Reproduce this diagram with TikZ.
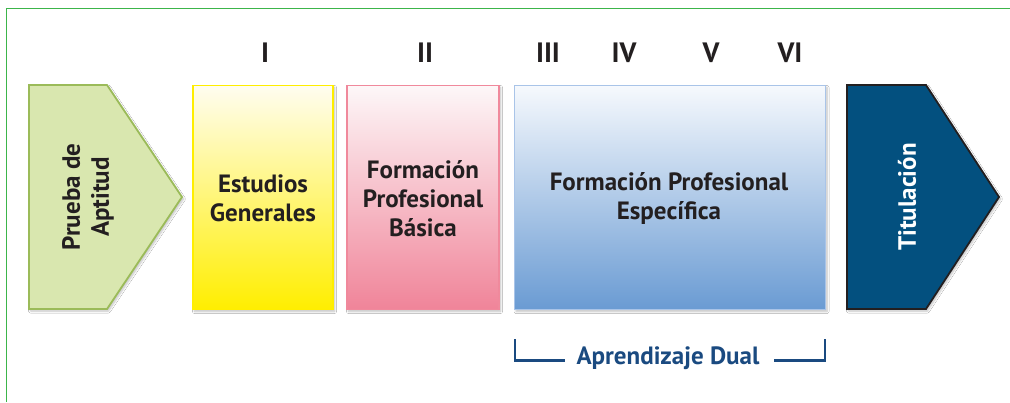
\documentclass[tikz,border=0pt]{standalone}
\usepackage{fontspec}
\setmainfont{PT Sans}
\usetikzlibrary{shadows.blur}
\definecolor{frameg}{HTML}{3CB54A}
\definecolor{gfill}{HTML}{D9E7AF}
\definecolor{gline}{HTML}{9BBB59}
\definecolor{yfill}{HTML}{FFEE00}
\definecolor{ytop}{HTML}{FFFDF0}
\definecolor{pfill}{HTML}{F08499}
\definecolor{ptop}{HTML}{FDF7F8}
\definecolor{pline}{HTML}{F0899C}
\definecolor{bfill}{HTML}{6A9BD3}
\definecolor{btop}{HTML}{F6F9FD}
\definecolor{bline}{HTML}{A9C4E8}
\definecolor{dfill}{HTML}{03507F}
\definecolor{dline}{HTML}{231F20}
\definecolor{txt}{HTML}{231F20}
\definecolor{dual}{HTML}{1A4A80}
\begin{document}
\begin{tikzpicture}[x=1pt,y=-1pt,
  shad/.style={blur shadow={shadow xshift=1.5pt,shadow yshift=-2pt,shadow blur steps=6,shadow opacity=25}},
  stagebox/.style={shad,line width=1.8pt,inner sep=0pt},
  lbl/.style={font=\bfseries\fontsize{25}{29}\selectfont,text=txt,align=center},
  rom/.style={font=\bfseries\fontsize{28}{30}\selectfont,text=txt,anchor=base}]
\useasboundingbox (0,0) rectangle (1010,402);
\fill[white] (0,0) rectangle (1010,402);
\draw[frameg,line width=1.5pt] (6.5,402) -- (6.5,8.5) -- (1010,8.5);
% pentagons
\path[shad,fill=gfill,draw=gline,line width=1.8pt,line join=miter]
  (29,85) -- (107,85) -- (182,197) -- (107,309) -- (29,309) -- cycle;
\path[shad,fill=dfill,draw=dline,line width=1.8pt,line join=miter]
  (847,85) -- (926,85) -- (999,197) -- (926,309) -- (847,309) -- cycle;
% boxes
\node[stagebox,draw=yfill,top color=ytop,bottom color=yfill,minimum width=140pt,minimum height=224pt] (eg) at (263,197.5) {};
\node[stagebox,draw=pline,top color=ptop,bottom color=pfill,minimum width=152pt,minimum height=224pt] (fpb) at (423,197.5) {};
\node[stagebox,draw=bline,top color=btop,bottom color=bfill,minimum width=311pt,minimum height=224pt] (fpe) at (670,197.5) {};
% texts
\node[lbl] (teg) at (263,198) {Estudios\\Generales};
\node[lbl] (tfpb) at (423,199) {Formación\\Profesional\\Básica};
\node[lbl] (tfpe) at (669,198) {Formación Profesional\\Específica};
\node[lbl,rotate=90] (tpa) at (88,197) {Prueba de\\Aptitud};
\node[lbl,rotate=90,text=white] (ttit) at (907,197) {Titulación};
% roman numerals
\node[rom] (r1) at (265,62) {I};
\node[rom] (r2) at (425,62) {II};
\node[rom] (r3) at (548,62) {III};
\node[rom] (r4) at (624,62) {IV};
\node[rom] (r5) at (711,62) {V};
\node[rom] (r6) at (790,62) {VI};
% dual bracket
\node[font=\bfseries\fontsize{25}{28}\selectfont,text=dual,anchor=base] (ad) at (668,364) {Aprendizaje Dual};
\coordinate (bl1) at (515,339);
\coordinate (bl2) at (515,360.5);
\coordinate (bl3) at (565,360.5);
\coordinate (br1) at (825,339);
\coordinate (br2) at (825,360.5);
\coordinate (br3) at (774,360.5);
\draw[dual,line width=2.5pt] (bl1) -- (bl2) -- (bl3);
\draw[dual,line width=2.5pt] (br1) -- (br2) -- (br3);
\end{tikzpicture}
\end{document}
